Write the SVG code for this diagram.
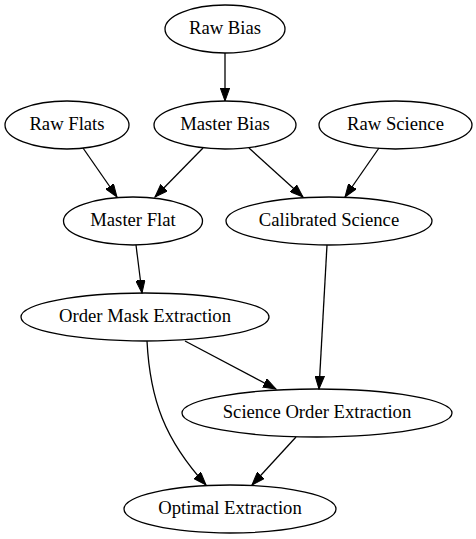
<svg xmlns="http://www.w3.org/2000/svg" width="476" height="539" viewBox="0 0 476 539">
<style>
.n ellipse{fill:none;stroke:#000;stroke-width:1.3}
.n text{font-family:"Liberation Serif","Times New Roman",serif;font-size:18.67px;text-anchor:middle;fill:#000}
.e path{fill:none;stroke:#000;stroke-width:1.3;marker-end:url(#ah)}
</style>
<defs>
<marker id="ah" markerUnits="userSpaceOnUse" markerWidth="14" markerHeight="10" refX="13" refY="5" orient="auto" viewBox="0 0 14 10">
<path d="M0,0.3 L13,5 L0,9.7 Z" fill="#000" stroke="#000" stroke-width="1"/>
</marker>
</defs>
<rect width="476" height="539" fill="#fff"/>
<g id="edges" class="e">
<path d="M225,53 L225,101"/>
<path d="M83,148 L117,197"/>
<path d="M203,148 L155,197"/>
<path d="M249,148 L303,197"/>
<path d="M379,148 L345,197"/>
<path d="M136,245 L142,293"/>
<path d="M327,245 L319,389"/>
<path d="M185,341 L276,389"/>
<path d="M147,341 C150,400 165,440 206,485"/>
<path d="M296,437 L252,485"/>
</g>
<g id="raw_bias" class="n"><ellipse cx="225" cy="29" rx="60" ry="24"/><text x="225" y="34">Raw Bias</text></g>
<g id="raw_flats" class="n"><ellipse cx="67" cy="125" rx="62" ry="24"/><text x="67" y="130">Raw Flats</text></g>
<g id="master_bias" class="n"><ellipse cx="225" cy="125" rx="71" ry="24"/><text x="225" y="130">Master Bias</text></g>
<g id="raw_science" class="n"><ellipse cx="395.5" cy="125" rx="76.5" ry="24"/><text x="395.5" y="130">Raw Science</text></g>
<g id="master_flat" class="n"><ellipse cx="133" cy="221" rx="69.5" ry="24"/><text x="133" y="226">Master Flat</text></g>
<g id="calibrated_science" class="n"><ellipse cx="329" cy="221" rx="103" ry="24"/><text x="329" y="226">Calibrated Science</text></g>
<g id="order_mask_extraction" class="n"><ellipse cx="145" cy="317" rx="124" ry="24"/><text x="145" y="322">Order Mask Extraction</text></g>
<g id="science_order_extraction" class="n"><ellipse cx="317" cy="413" rx="135" ry="24"/><text x="317" y="418">Science Order Extraction</text></g>
<g id="optimal_extraction" class="n"><ellipse cx="230" cy="509" rx="106" ry="24"/><text x="230" y="514">Optimal Extraction</text></g>
</svg>
